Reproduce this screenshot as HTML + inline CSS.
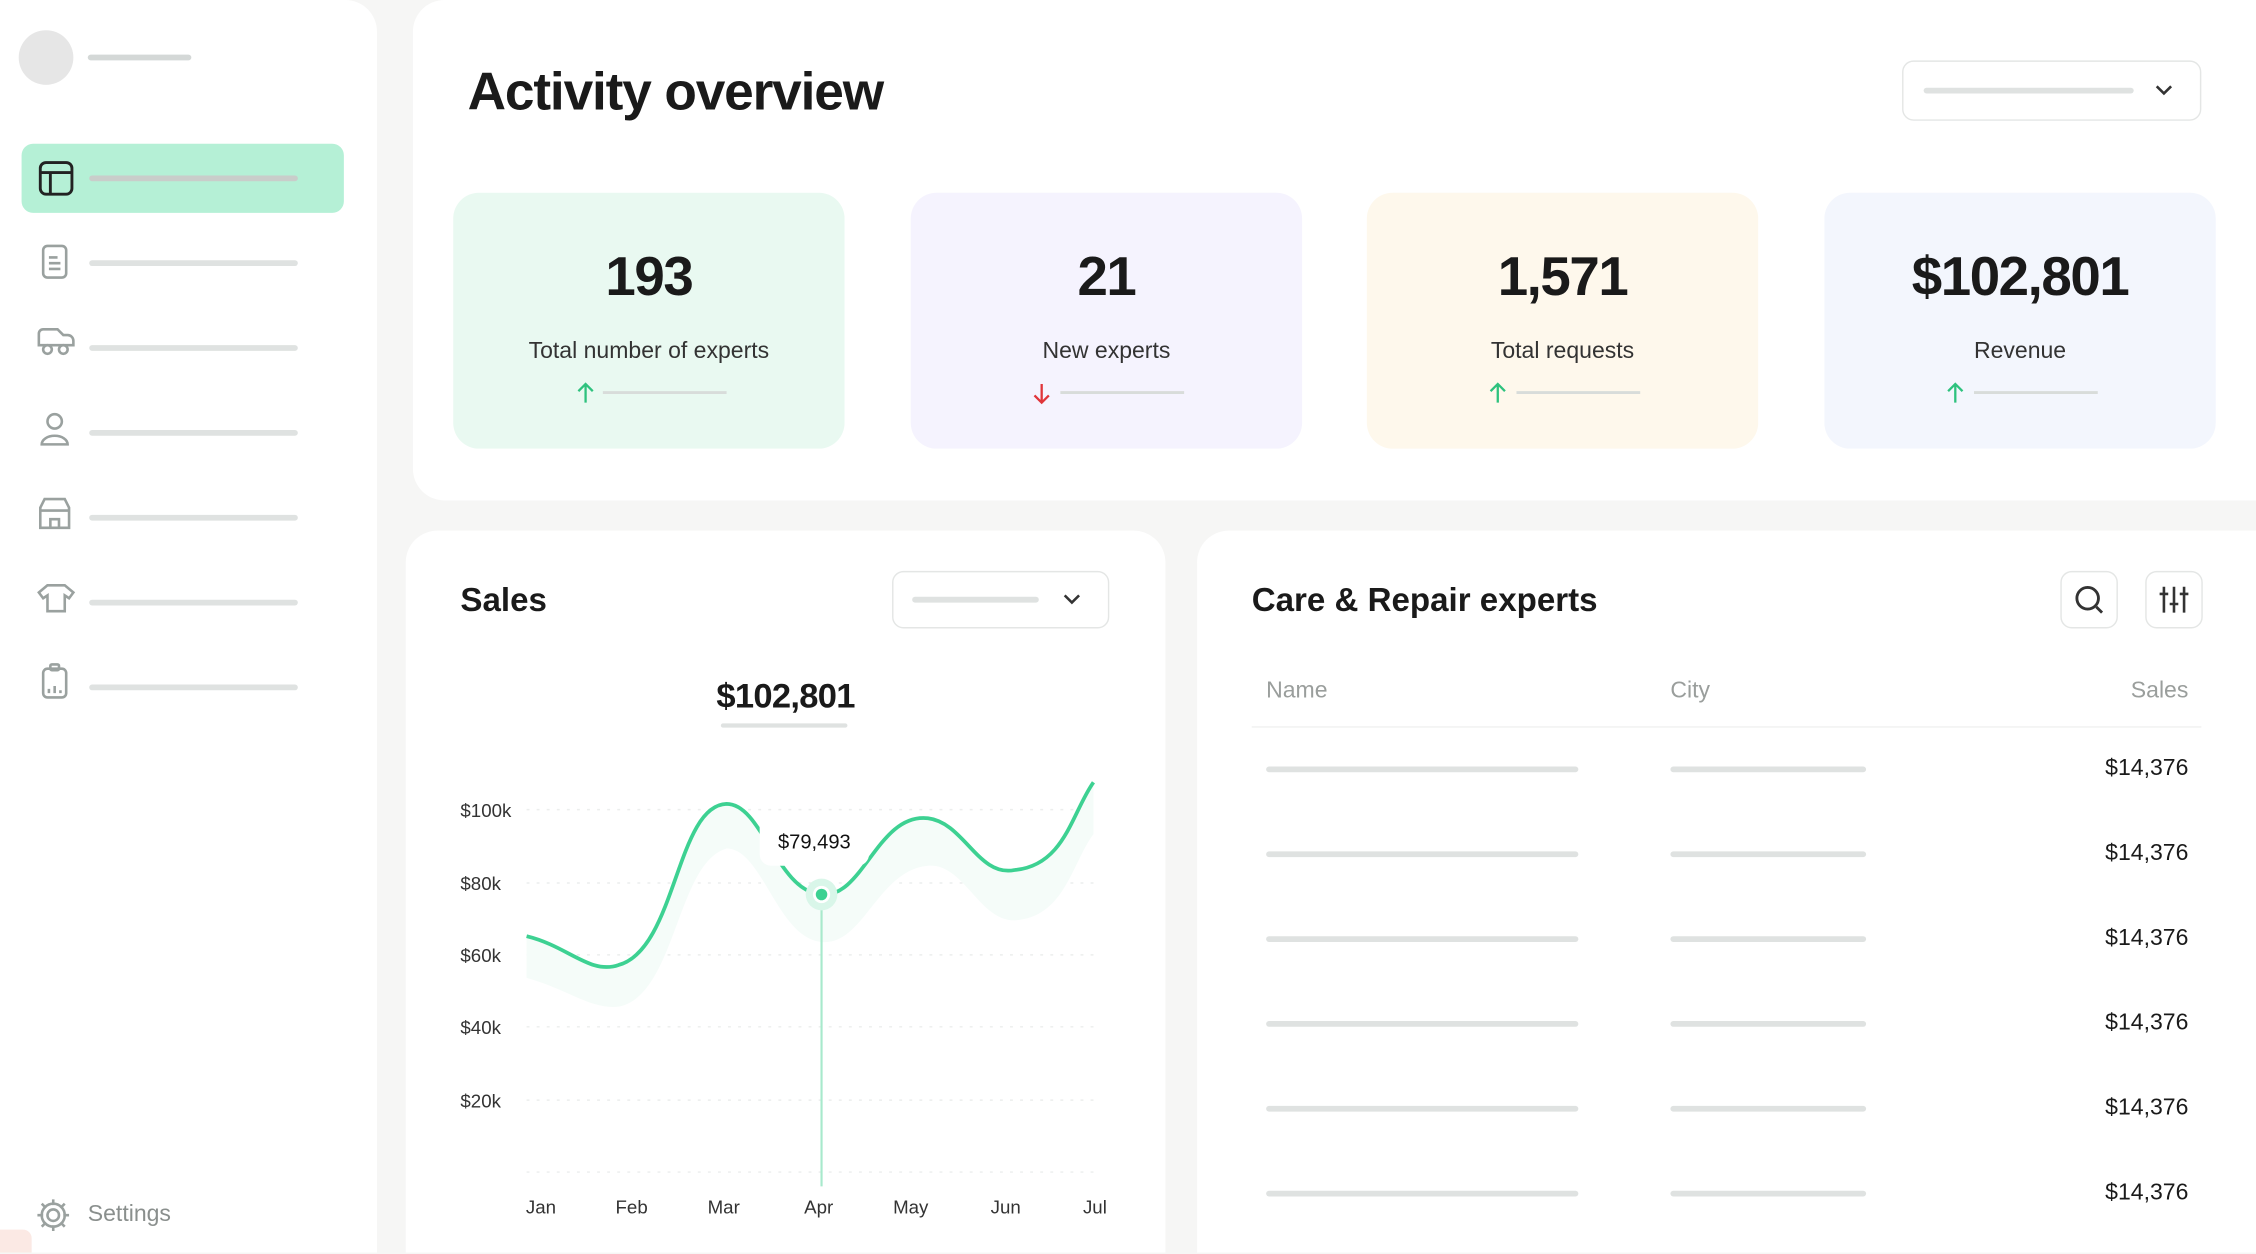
<!DOCTYPE html>
<html><head><meta charset="utf-8"><style>
*{margin:0;padding:0;box-sizing:border-box}
html,body{width:2256px;height:1254px;overflow:hidden;background:#f6f6f5}
#w{position:absolute;left:0;top:0;width:1568px;height:871px;overflow:hidden;transform:scale(1.43878,1.4381);transform-origin:0 0;font-family:"Liberation Sans",sans-serif;color:#1a1a1a;background:#f6f6f5}
.p{position:absolute;background:#fff}
.a{position:absolute}
.bar{position:absolute;height:4px;border-radius:2px;background:#dfe2e1}
.card{position:absolute;top:134px;width:272px;height:178px;border-radius:18px;text-align:center}
.card .n{position:absolute;top:38px;width:100%;font-size:38px;font-weight:bold;letter-spacing:-1px}
.card .l{position:absolute;top:102px;width:100%;font-size:16px;color:#333}
</style></head><body><div id="w">
<!-- sidebar -->
<div class="p" style="left:0;top:0;width:262px;height:871px;border-radius:0 22px 0 0"></div>
<div class="a" style="left:13px;top:21px;width:38px;height:38px;border-radius:50%;background:#e6e6e6"></div>
<div class="bar" style="left:61px;top:38px;width:72px;background:#d4d8d7"></div>
<div class="a" style="left:15px;top:100px;width:224px;height:48px;border-radius:8px;background:#b5f0d6"></div>
<div class="bar" style="left:62px;top:122px;width:145px;background:#c9cdca"></div>
<svg class="a" style="left:26px;top:111px" width="26" height="26" viewBox="0 0 26 26" fill="none" stroke="#222" stroke-width="2"><rect x="2" y="2" width="22" height="22" rx="4"/><path d="M2 9h22M9 9v15"/></svg>
<svg class="a" style="left:24px;top:168px" width="30" height="340" viewBox="0 0 30 340" fill="none" stroke="#9aa19f" stroke-width="1.8">
<rect x="6" y="3" width="16" height="22" rx="3"/><path d="M10 11h6M10 15h8M10 19h8"/>
<path d="M3 72 v-8 a3 3 0 0 1 3-3 h10 l4 4 h3 a4 4 0 0 1 4 4 v3z"/><circle cx="9" cy="75" r="3"/><circle cx="20" cy="75" r="3"/>
<circle cx="14" cy="125" r="5"/><path d="M5 141 a9 6 0 0 1 18 0 z"/>
<path d="M4 185 l3-6 h14 l3 6 v14 h-20z M4 187h20 M11 199v-6h6v6"/>
<path d="M9 239 l-6 5 3 4 3-2 v11 h12 v-11 l3 2 3-4 -6-5 h-12z"/>
<rect x="6" y="297" width="16" height="20" rx="3"/><rect x="11" y="294" width="6" height="4" rx="1"/><path d="M10 311v3M14 309v5M18 312v2"/>
</svg>
<div class="bar" style="left:62px;top:181px;width:145px"></div>
<div class="bar" style="left:62px;top:240px;width:145px"></div>
<div class="bar" style="left:62px;top:299px;width:145px"></div>
<div class="bar" style="left:62px;top:358px;width:145px"></div>
<div class="bar" style="left:62px;top:417px;width:145px"></div>
<div class="bar" style="left:62px;top:476px;width:145px"></div>
<svg class="a" style="left:24px;top:832px" width="26" height="26" viewBox="0 0 26 26" fill="none" stroke="#9aa19f" stroke-width="1.8"><circle cx="13" cy="13" r="4"/><path d="M13 2v4M13 20v4M2 13h4M20 13h4M5 5l3 3M18 18l3 3M5 21l3-3M18 8l3-3"/><circle cx="13" cy="13" r="8"/></svg>
<div class="a" style="left:61px;top:836px;font-size:16px;color:#8a8f8d">Settings</div>
<div class="a" style="left:0;top:855px;width:22px;height:16px;background:#fbe9e4;border-radius:0 6px 0 0"></div>

<!-- top panel -->
<div class="p" style="left:287px;top:0;width:1281px;height:348px;border-radius:22px 0 0 22px"></div>
<div class="a" style="left:325px;top:43px;font-size:37px;font-weight:bold;letter-spacing:-0.8px">Activity overview</div>
<div class="a" style="left:1322px;top:42px;width:208px;height:42px;border:1px solid #e4e6e5;border-radius:8px"></div>
<div class="bar" style="left:1337px;top:61px;width:146px"></div>
<svg class="a" style="left:1497px;top:58px" width="14" height="10" viewBox="0 0 14 10" fill="none" stroke="#333" stroke-width="1.8"><path d="M2 2l5 5 5-5"/></svg>

<div class="card" style="left:315px;background:#e9f9f1"><div class="n">193</div><div class="l">Total number of experts</div></div>
<div class="card" style="left:633px;background:#f5f3fe"><div class="n">21</div><div class="l">New experts</div></div>
<div class="card" style="left:950px;background:#fef8ec"><div class="n">1,571</div><div class="l">Total requests</div></div>
<div class="card" style="left:1268px;width:272px;background:#f3f6fd"><div class="n">$102,801</div><div class="l">Revenue</div></div>
<svg class="a" style="left:0;top:262px" width="1568" height="22" viewBox="0 0 1568 22" fill="none" stroke-width="1.6">
<g stroke="#2ec27e"><path d="M407 18V5M402 10l5-5 5 5"/><path d="M1041 18V5M1036 10l5-5 5 5"/><path d="M1359 18V5M1354 10l5-5 5 5"/></g>
<g stroke="#e0353a"><path d="M724 5v13M719 13l5 5 5-5"/></g>
<g stroke="#d8dcda" stroke-width="2"><path d="M419 11h86M737 11h86M1054 11h86M1372 11h86"/></g>
</svg>

<!-- sales panel -->
<div class="p" style="left:282px;top:369px;width:528px;height:502px;border-radius:22px 22px 0 0"></div>
<div class="a" style="left:320px;top:404px;font-size:23px;font-weight:bold">Sales</div>
<div class="a" style="left:620px;top:397px;width:151px;height:40px;border:1px solid #e4e6e5;border-radius:8px"></div>
<div class="bar" style="left:634px;top:415px;width:88px"></div>
<svg class="a" style="left:738px;top:412px" width="14" height="10" viewBox="0 0 14 10" fill="none" stroke="#333" stroke-width="1.8"><path d="M2 2l5 5 5-5"/></svg>
<div class="a" style="left:482px;top:471px;width:128px;text-align:center;font-size:24px;font-weight:bold;letter-spacing:-0.5px">$102,801</div>
<div class="bar" style="left:501px;top:503px;width:88px;height:3px"></div>
<svg class="a" style="left:282px;top:520px" width="528" height="340" viewBox="282 520 528 340" font-family="Liberation Sans,sans-serif">
<g stroke="#eceeed" stroke-dasharray="2 5" stroke-width="1"><path d="M366 563H760M366 614H760M366 664H760M366 714H760M366 765H760M366 815H760"/></g>
<g font-size="13" fill="#333"><text x="320" y="568">$100k</text><text x="320" y="619">$80k</text><text x="320" y="669">$60k</text><text x="320" y="719">$40k</text><text x="320" y="770">$20k</text>
<text x="376" y="844" text-anchor="middle">Jan</text><text x="439" y="844" text-anchor="middle">Feb</text><text x="503" y="844" text-anchor="middle">Mar</text><text x="569" y="844" text-anchor="middle">Apr</text><text x="633" y="844" text-anchor="middle">May</text><text x="699" y="844" text-anchor="middle">Jun</text><text x="761" y="844" text-anchor="middle">Jul</text></g>
<path d="M366 651 C395 658,410 678,430 671 C470 660,470 560,505 559 C530 559,540 620,571 622 C600 625,610 565,645 569 C670 572,680 610,705 605 C740 602,745 565,760 544 L760 580 C745 600,740 638,705 640 C680 640,670 600,645 602 C610 605,600 658,571 655 C540 652,530 590,505 590 C470 600,470 692,430 700 C410 702,395 688,366 680Z" fill="#f5fcf9"/>
<path d="M366 651 C395 658,410 678,430 671 C470 660,470 560,505 559 C530 559,540 620,571 622 C600 625,610 565,645 569 C670 572,680 610,705 605 C740 602,745 565,760 544" fill="none" stroke="#3dd192" stroke-width="2.6"/>
<rect x="528" y="566" width="76" height="36" rx="8" fill="#fff"/>
<text x="566" y="590" text-anchor="middle" font-size="14" fill="#111">$79,493</text>
<line x1="571" y1="622" x2="571" y2="825" stroke="#a8e9cc" stroke-width="1.5"/>
<circle cx="571" cy="622" r="11" fill="#d9f6e9"/><circle cx="571" cy="622" r="6" fill="#fff"/><circle cx="571" cy="622" r="4" fill="#3dd192"/>
</svg>

<!-- care panel -->
<div class="p" style="left:832px;top:369px;width:736px;height:502px;border-radius:22px 0 0 0"></div>
<div class="a" style="left:870px;top:404px;font-size:23px;font-weight:bold">Care &amp; Repair experts</div>
<div class="a" style="left:1432px;top:397px;width:40px;height:40px;border:1px solid #e4e6e5;border-radius:8px"></div>
<div class="a" style="left:1491px;top:397px;width:40px;height:40px;border:1px solid #e4e6e5;border-radius:8px"></div>
<svg class="a" style="left:1440px;top:405px" width="24" height="24" viewBox="0 0 24 24" fill="none" stroke="#333" stroke-width="2"><circle cx="11" cy="11" r="7.5"/><path d="M17 17l4 4"/></svg>
<svg class="a" style="left:1500px;top:406px" width="22" height="22" viewBox="0 0 22 22" fill="none" stroke="#333" stroke-width="1.8"><path d="M4 2v18M11 2v18M18 2v18M1 7h6M8 14h6M15 7h6"/></svg>
<div class="a" style="left:880px;top:472px;font-size:16px;color:#9a9e9c">Name</div>
<div class="a" style="left:1161px;top:472px;font-size:16px;color:#9a9e9c">City</div>
<div class="a" style="left:1420px;top:472px;width:101px;text-align:right;font-size:16px;color:#9a9e9c">Sales</div>
<div class="a" style="left:870px;top:505px;width:660px;height:1px;background:#f0f1f0"></div>
<div class="bar" style="left:880px;top:533px;width:217px"></div><div class="bar" style="left:1161px;top:533px;width:136px"></div><div class="a" style="left:1420px;top:526px;width:101px;text-align:right;font-size:16px">$14,376</div>
<div class="bar" style="left:880px;top:592px;width:217px"></div><div class="bar" style="left:1161px;top:592px;width:136px"></div><div class="a" style="left:1420px;top:585px;width:101px;text-align:right;font-size:16px">$14,376</div>
<div class="bar" style="left:880px;top:651px;width:217px"></div><div class="bar" style="left:1161px;top:651px;width:136px"></div><div class="a" style="left:1420px;top:644px;width:101px;text-align:right;font-size:16px">$14,376</div>
<div class="bar" style="left:880px;top:710px;width:217px"></div><div class="bar" style="left:1161px;top:710px;width:136px"></div><div class="a" style="left:1420px;top:703px;width:101px;text-align:right;font-size:16px">$14,376</div>
<div class="bar" style="left:880px;top:769px;width:217px"></div><div class="bar" style="left:1161px;top:769px;width:136px"></div><div class="a" style="left:1420px;top:762px;width:101px;text-align:right;font-size:16px">$14,376</div>
<div class="bar" style="left:880px;top:828px;width:217px"></div><div class="bar" style="left:1161px;top:828px;width:136px"></div><div class="a" style="left:1420px;top:821px;width:101px;text-align:right;font-size:16px">$14,376</div>
</div></body></html>
